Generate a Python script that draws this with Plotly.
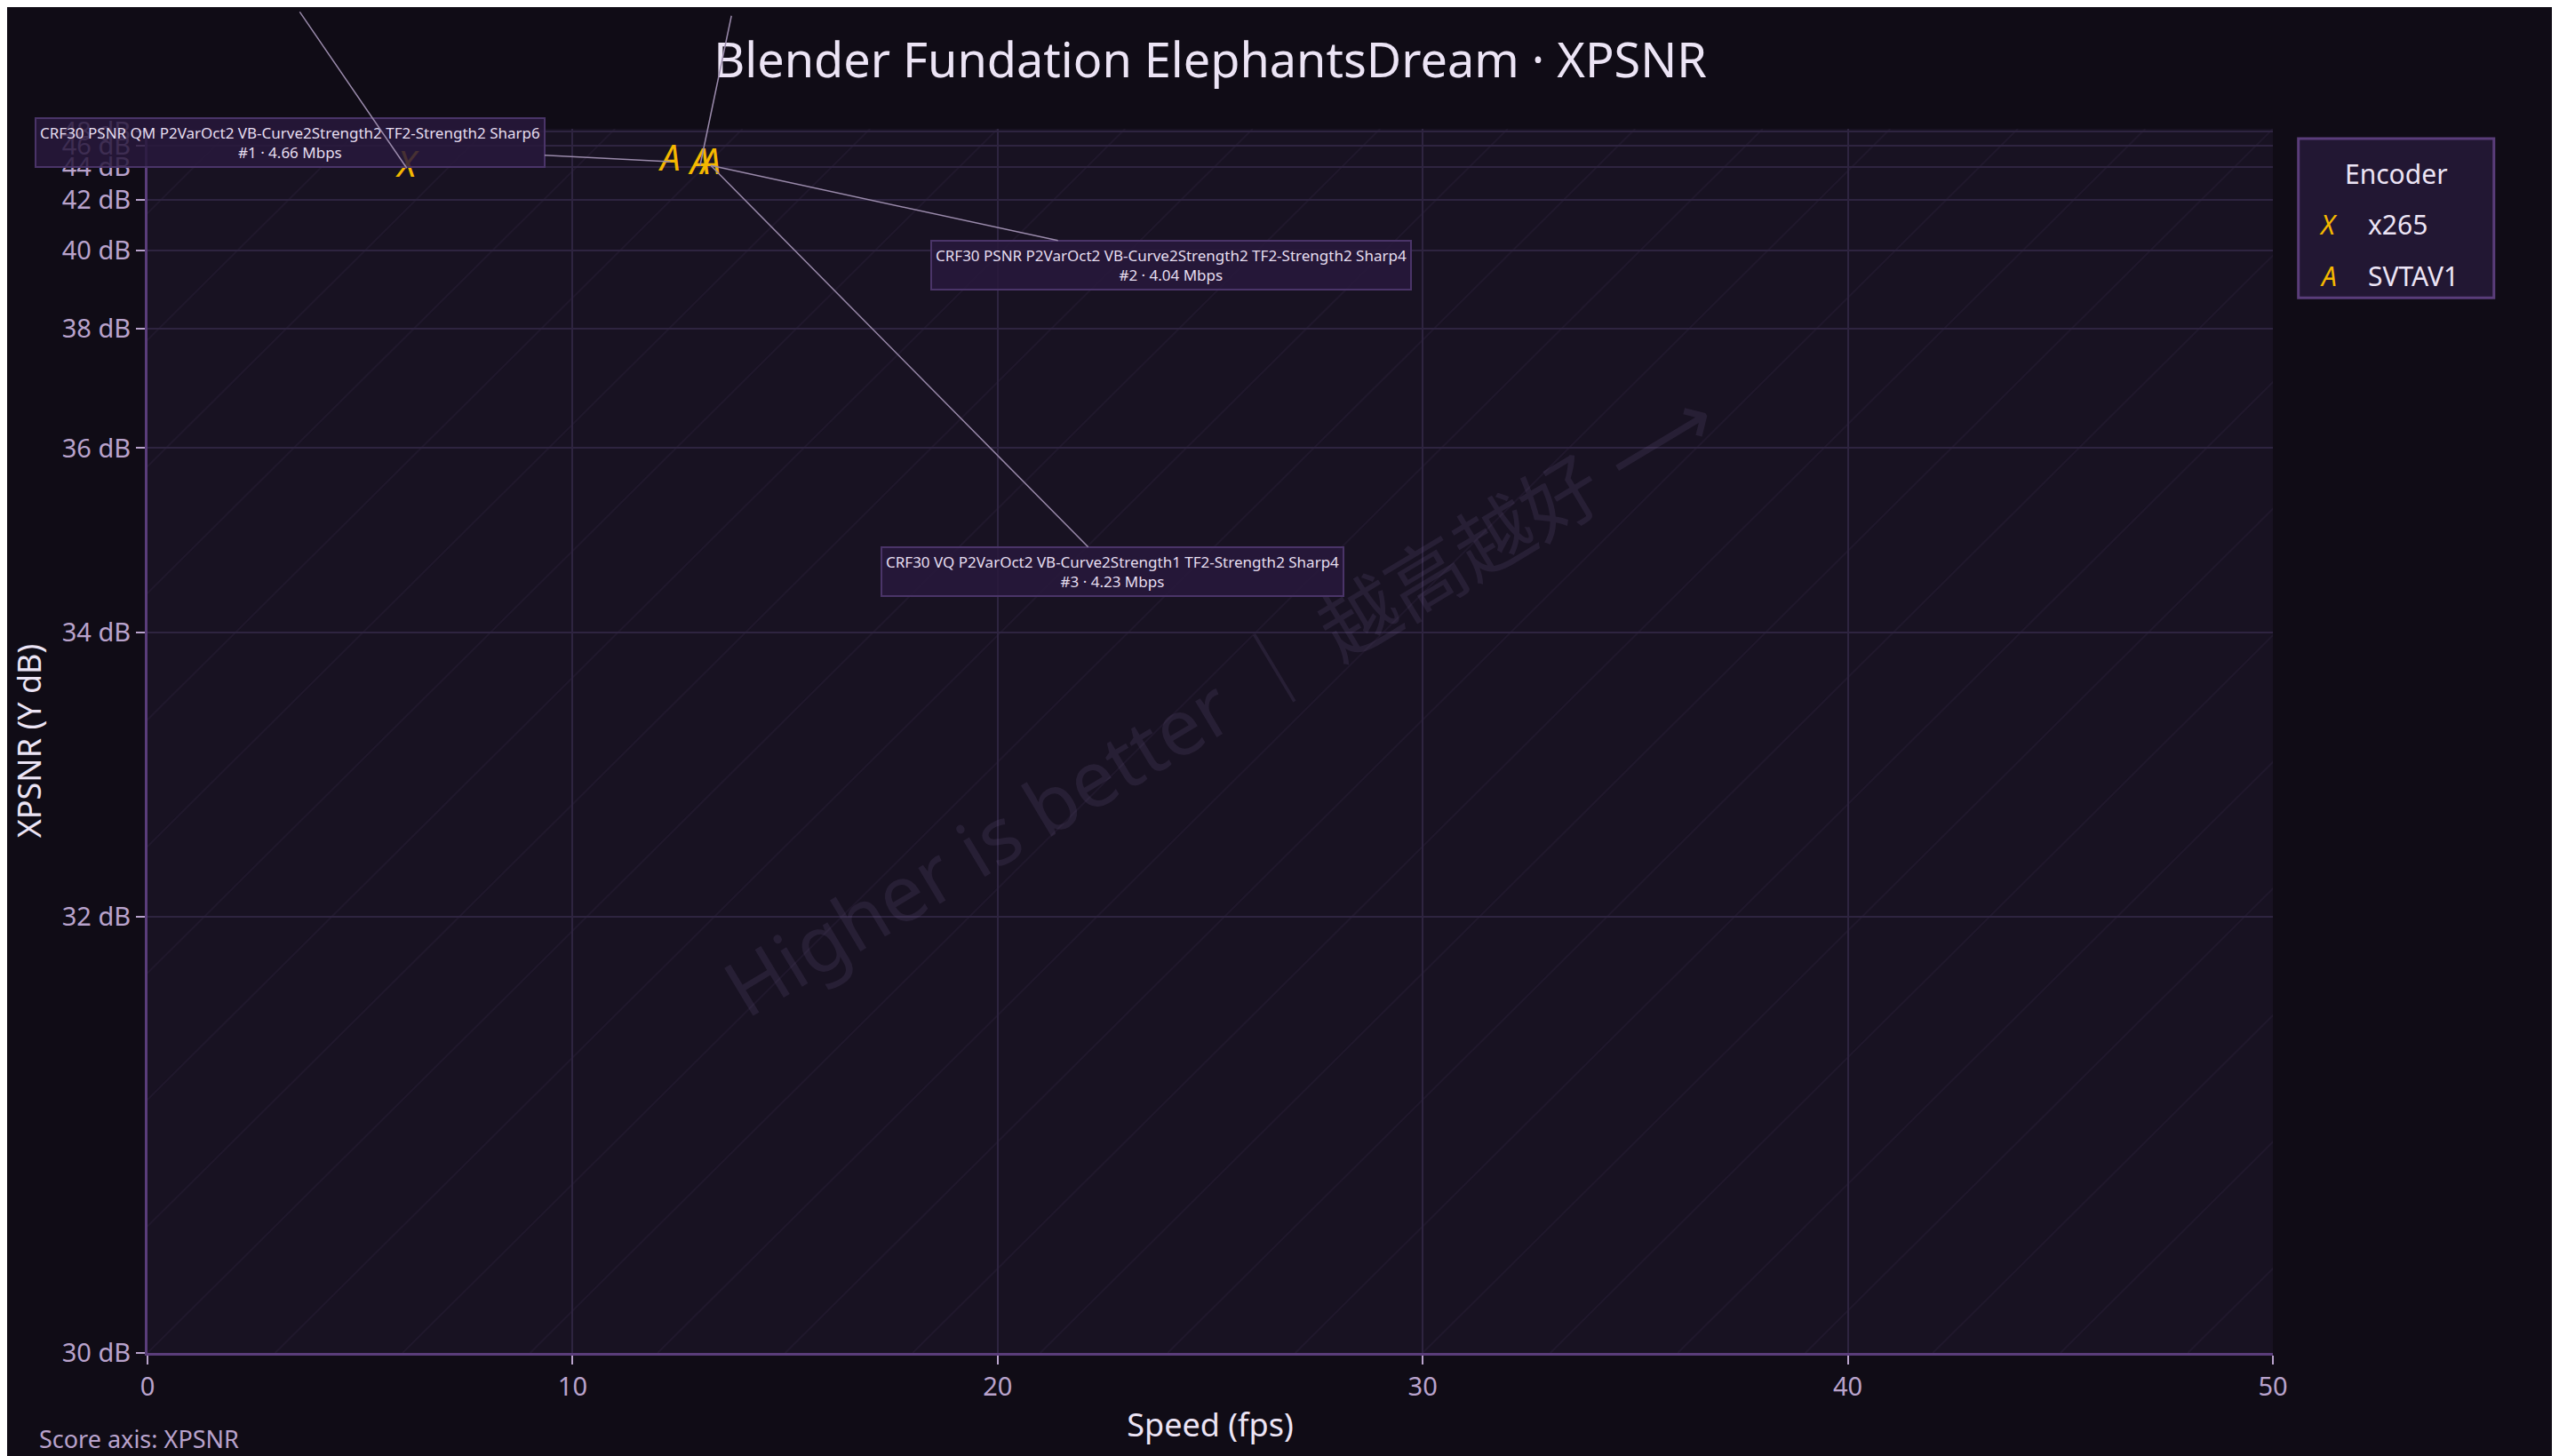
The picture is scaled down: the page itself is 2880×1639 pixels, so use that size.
import numpy as np
import plotly.graph_objects as go

# data
x265_speed = [6.1]
x265_score = [43.9]
svt_speed = [12.3, 13.0, 13.25]
svt_score = [44.4, 44.1, 44.1]
y_ticks = [30, 32, 34, 36, 38, 40, 42, 44, 46, 48]
labels = [
    "CRF30 PSNR QM P2VarOct2 VB-Curve2Strength2 TF2-Strength2 Sharp6<br>#1 · 4.66 Mbps",
    "CRF30 PSNR P2VarOct2 VB-Curve2Strength2 TF2-Strength2 Sharp4<br>#2 · 4.04 Mbps",
    "CRF30 VQ P2VarOct2 VB-Curve2Strength1 TF2-Strength2 Sharp4<br>#3 · 4.23 Mbps",
]

GOLD = "#f5b800"
FONT = "Noto Sans"


def squash(v):
    # compressive score axis: high scores get packed towards the top
    return 1 - np.exp(-0.2154 * (np.asarray(v, dtype=float) - 30))


y_lo, y_hi = float(squash(30)), float(squash(48.5))

fig = go.Figure()
fig.add_trace(go.Scatter(x=x265_speed, y=squash(x265_score), mode="text", text=["X"] * len(x265_speed),
                         textfont=dict(color=GOLD, size=40, family=FONT, style="italic"), name="x265",
                         showlegend=False))
fig.add_trace(go.Scatter(x=svt_speed, y=squash(svt_score), mode="text", text=["A"] * len(svt_speed),
                         textfont=dict(color=GOLD, size=40, family=FONT, style="italic"), name="SVTAV1",
                         showlegend=False))

# faint diagonal hatching (data-referenced so it gets clipped to the plot)
span = y_hi - y_lo
for i in range(-30, 31):
    x0 = i * 3.0
    fig.add_shape(type="line", xref="x", yref="y", x0=x0, y0=y_lo, x1=x0 + 29, y1=y_lo + span,
                  line=dict(color="rgba(130,100,170,0.08)", width=2), layer="below")
fig.add_annotation(xref="paper", yref="paper", x=0.504, y=0.533, text="Higher is better ｜ 越高越好 ⟶",
                   showarrow=False, textangle=-31, font=dict(size=88, color="rgba(120,100,150,0.17)",
                                                             family="Noto Sans, Noto Sans CJK SC"))

box = dict(bgcolor="rgba(40,25,60,0.85)", bordercolor="#4a3468", borderwidth=2, borderpad=4,
           font=dict(size=17, color="#e6def0", family=FONT), arrowcolor="#9a8aab", arrowwidth=1.5,
           arrowhead=0, showarrow=True)
fig.add_annotation(x=svt_speed[0], y=squash(svt_score[0]), ax=-428, ay=-22, text=labels[0], **box)
fig.add_annotation(x=svt_speed[2], y=squash(svt_score[2]), ax=518, ay=112, text=labels[1], **box)
fig.add_annotation(x=svt_speed[2], y=squash(svt_score[2]), ax=452, ay=457, text=labels[2], **box)
# leader lines whose labels lie above the page
lead = dict(text=" ", showarrow=True, arrowhead=0, arrowcolor="#9a8aab", arrowwidth=1.5,
            bgcolor="rgba(0,0,0,0)", borderwidth=0, font=dict(size=4))
fig.add_annotation(x=x265_speed[0], y=squash(x265_score[0]), ax=-122, ay=-178, **lead)
fig.add_annotation(x=svt_speed[1], y=squash(svt_score[1]), ax=36, ay=-172, **lead)

# hand-made legend (text glyph markers)
fig.add_shape(type="rect", xref="paper", yref="paper", x0=1.012, x1=1.104, y0=0.862, y1=0.992,
              fillcolor="#221733", line=dict(color="#5a3d7a", width=3))
fig.add_annotation(xref="paper", yref="paper", x=1.058, y=0.963, text="Encoder", showarrow=False,
                   xanchor="center", yanchor="middle", font=dict(size=30, color="#ece4f5", family=FONT))
for i, (g, n) in enumerate([("X", "x265"), ("A", "SVTAV1")]):
    yy = 0.922 - i * 0.042
    fig.add_annotation(xref="paper", yref="paper", x=1.026, y=yy, text=g, showarrow=False,
                       xanchor="center", yanchor="middle",
                       font=dict(size=30, color=GOLD, family=FONT, style="italic"))
    fig.add_annotation(xref="paper", yref="paper", x=1.044, y=yy, text=n, showarrow=False,
                       xanchor="left", yanchor="middle", font=dict(size=30, color="#ece4f5", family=FONT))

fig.add_annotation(xref="paper", yref="paper", x=-0.052, y=-0.085, xanchor="left", text="Score axis: XPSNR",
                   showarrow=False, font=dict(size=27, color="#b9a3cc", family=FONT))

axis_common = dict(tickfont=dict(size=29), gridcolor="#2e2440", gridwidth=2, zeroline=False,
                   showline=True, linecolor="#5a3d7a", linewidth=3, ticks="outside", tickcolor="#b9a3cc",
                   ticklen=10, tickwidth=2)
fig.update_layout(
    width=2880, height=1639,
    paper_bgcolor="#100c16", plot_bgcolor="#181222",
    margin=dict(l=158, r=330, t=137, b=124),
    title=dict(text="Blender Fundation ElephantsDream · XPSNR", x=0.5, xref="paper", y=0.975,
               font=dict(size=54, color="#ece4f5", family=FONT)),
    font=dict(family=FONT, color="#b9a3cc"),
    xaxis=dict(range=[0, 50], dtick=10, title=dict(text="Speed (fps)", font=dict(size=36, color="#ece4f5")),
               **axis_common),
    yaxis=dict(range=[y_lo, y_hi], tickvals=squash(y_ticks), ticktext=[f"{v} dB" for v in y_ticks],
               title=dict(text="XPSNR (Y dB)", font=dict(size=36, color="#ece4f5")), **axis_common),
)

fig.write_html("out.html")
